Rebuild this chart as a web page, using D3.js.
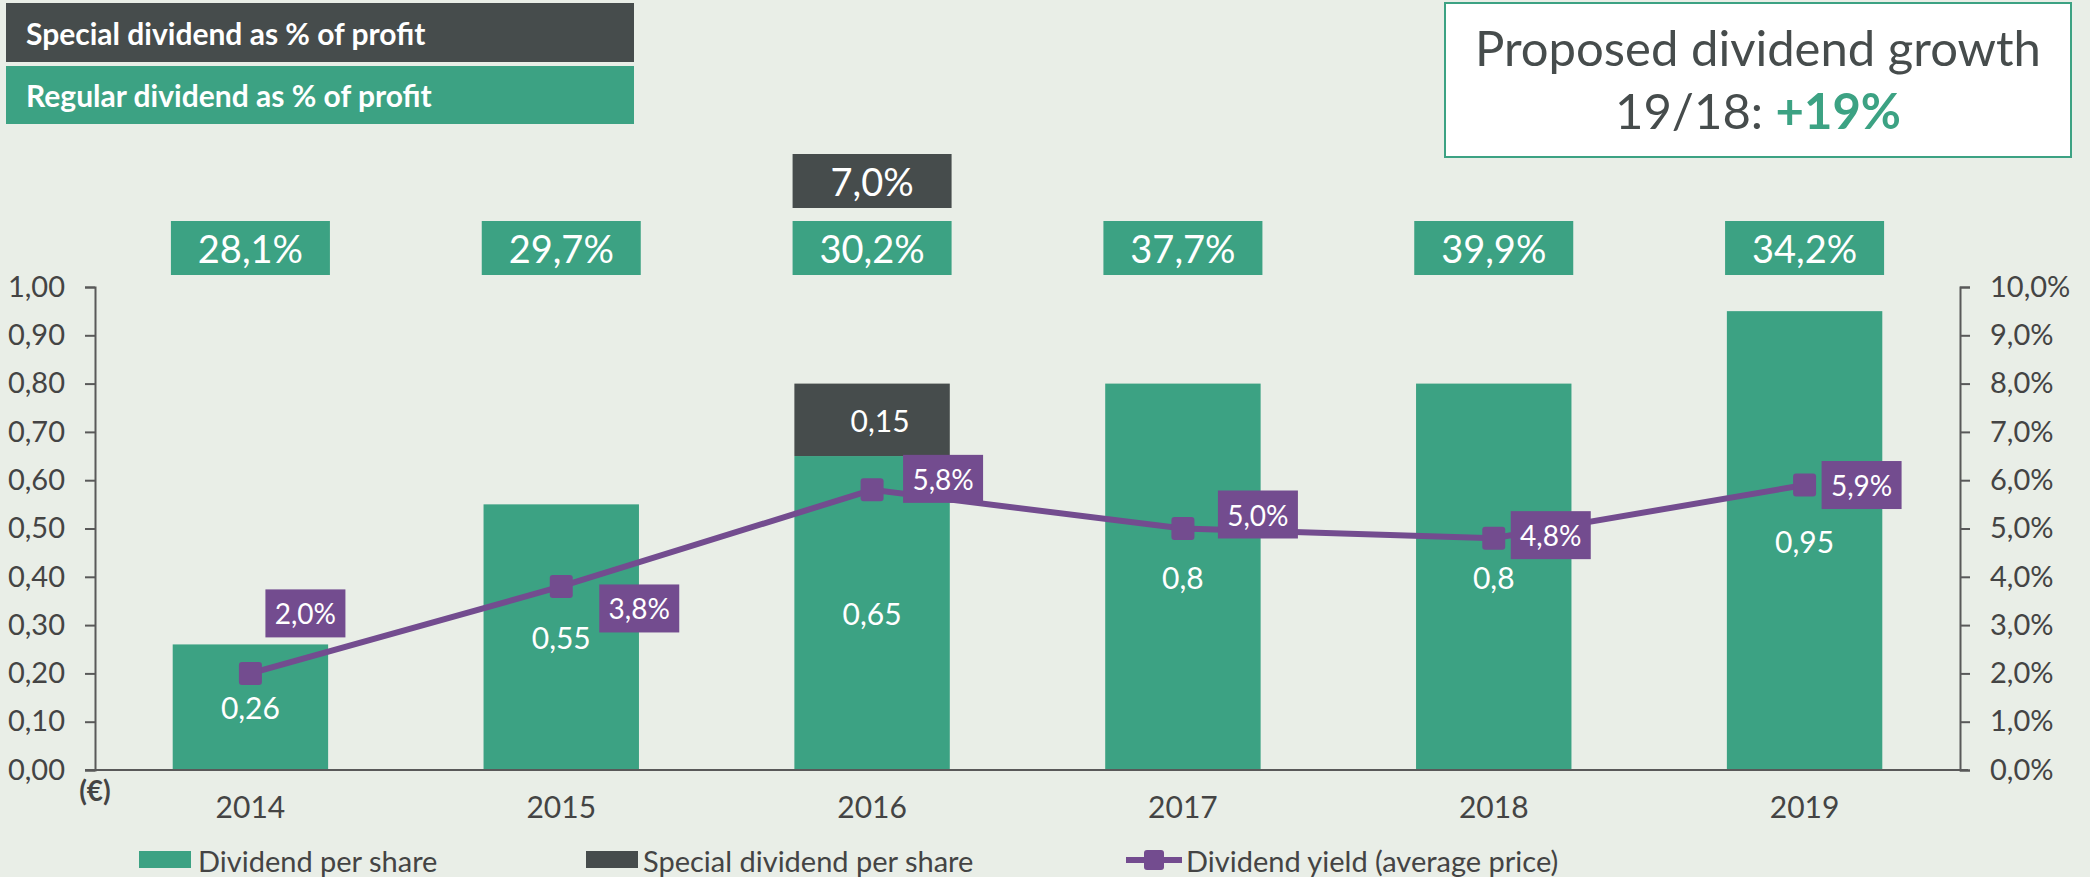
<!DOCTYPE html>
<html>
<head>
<meta charset="utf-8">
<script src="https://cdn.jsdelivr.net/npm/d3@7/dist/d3.min.js"></script>
<style>
  html, body { margin: 0; padding: 0; background: #E9EEE7; }
  svg { display: block; font-family: Lato, "Open Sans", sans-serif; }
</style>
</head>
<body>
<svg id="chart" width="2090" height="877"></svg>
<script>
const years = ['2014', '2015', '2016', '2017', '2018', '2019'];
const dividendPerShare = [0.26, 0.55, 0.65, 0.8, 0.8, 0.95];
const specialDividend = [0, 0, 0.15, 0, 0, 0];
const dividendYield = [2.0, 3.8, 5.8, 5.0, 4.8, 5.9];
const regularPayout = [28.1, 29.7, 30.2, 37.7, 39.9, 34.2];
const specialPayout = [null, null, 7.0, null, null, null];
const leftTicks = [0, 0.1, 0.2, 0.3, 0.4, 0.5, 0.6, 0.7, 0.8, 0.9, 1.0];
const rightTicks = [0, 1, 2, 3, 4, 5, 6, 7, 8, 9, 10];

const GREEN = '#3CA283';
const DARK = '#464C4C';
const PURPLE = '#734C8F';
const AXIS = '#595959';
const TEXT = '#444';

// label offsets for the yield boxes, relative to the marker (layout only)
const yieldLabelNudge = [[55, -60], [78, 22], [71, -11], [75, -14], [57, -3], [57, 0]];

const comma = s => s.replace('.', ',');

const svg = d3.select('#chart');
const plotLeft = 95, plotRight = 1960, plotBottom = 770, plotTop = 287;

const x = d3.scaleBand()
  .domain(years)
  .range([plotLeft, plotRight])
  .paddingInner(0.5)
  .paddingOuter(0.25);

const y = d3.scaleLinear().domain([0, 1]).range([plotBottom, plotTop]);
const y2 = d3.scaleLinear().domain([0, 10]).range([plotBottom, plotTop]);

// left axis
const leftAxis = svg.append('g')
  .attr('transform', `translate(${plotLeft},0)`)
  .call(d3.axisLeft(y)
    .tickValues(leftTicks)
    .tickSize(10)
    .tickPadding(20)
    .tickFormat(d => comma(d3.format('.2f')(d))));

// right axis
const rightAxis = svg.append('g')
  .attr('transform', `translate(${plotRight},0)`)
  .call(d3.axisRight(y2)
    .tickValues(rightTicks)
    .tickSize(10)
    .tickPadding(20)
    .tickFormat(d => comma(d3.format('.1f')(d)) + '%'));

[leftAxis, rightAxis].forEach(g => {
  g.select('.domain').attr('stroke', AXIS).attr('stroke-width', 2);
  g.selectAll('.tick line').attr('stroke', AXIS).attr('stroke-width', 2);
  g.selectAll('.tick text')
    .attr('fill', TEXT)
    .style('font-size', '29px')
    .style('font-family', 'Lato, sans-serif');
});

// bars: regular then special stacked on top
const barGroups = svg.append('g');
barGroups.selectAll('.bar-regular')
  .data(years)
  .enter().append('rect')
  .attr('class', 'bar-regular')
  .attr('x', d => x(d))
  .attr('width', x.bandwidth())
  .attr('y', (d, i) => y(dividendPerShare[i]))
  .attr('height', (d, i) => plotBottom - y(dividendPerShare[i]))
  .attr('fill', GREEN);

barGroups.selectAll('.bar-special')
  .data(years.filter((d, i) => specialDividend[i] > 0))
  .enter().append('rect')
  .attr('class', 'bar-special')
  .attr('x', d => x(d))
  .attr('width', x.bandwidth())
  .attr('y', d => {
    const i = years.indexOf(d);
    return y(dividendPerShare[i] + specialDividend[i]);
  })
  .attr('height', d => {
    const i = years.indexOf(d);
    return y(dividendPerShare[i]) - y(dividendPerShare[i] + specialDividend[i]);
  })
  .attr('fill', DARK);

// baseline
svg.append('line')
  .attr('x1', plotLeft - 10).attr('x2', plotRight + 8)
  .attr('y1', plotBottom).attr('y2', plotBottom)
  .attr('stroke', AXIS).attr('stroke-width', 2);

// year labels
const xAxis = svg.append('g')
  .attr('transform', `translate(0,${plotBottom})`)
  .call(d3.axisBottom(x).tickSize(0).tickPadding(27));
xAxis.select('.domain').remove();
xAxis.selectAll('.tick text')
  .attr('fill', TEXT)
  .style('font-size', '30px')
  .style('font-family', 'Lato, sans-serif');

svg.append('text')
  .attr('x', 95).attr('y', 790)
  .attr('text-anchor', 'middle')
  .attr('dominant-baseline', 'central')
  .attr('fill', TEXT)
  .style('font-size', '28px')
  .style('font-weight', 'bold')
  .text('(€)');

// value labels inside bars
svg.selectAll('.bar-label')
  .data(years)
  .enter().append('text')
  .attr('class', 'bar-label')
  .attr('x', d => x(d) + x.bandwidth() / 2)
  .attr('y', (d, i) => y(dividendPerShare[i] / 2))
  .attr('text-anchor', 'middle')
  .attr('dominant-baseline', 'central')
  .attr('fill', '#fff')
  .style('font-size', '30px')
  .text((d, i) => comma(String(dividendPerShare[i])));

svg.selectAll('.special-label')
  .data(years.filter((d, i) => specialDividend[i] > 0))
  .enter().append('text')
  .attr('class', 'special-label')
  .attr('x', d => x(d) + x.bandwidth() / 2 + 8)
  .attr('y', d => {
    const i = years.indexOf(d);
    return y(dividendPerShare[i] + specialDividend[i] / 2);
  })
  .attr('text-anchor', 'middle')
  .attr('dominant-baseline', 'central')
  .attr('fill', '#fff')
  .style('font-size', '30px')
  .text(d => comma(String(specialDividend[years.indexOf(d)])));

// dividend yield line
const line = d3.line()
  .x((d, i) => x(years[i]) + x.bandwidth() / 2)
  .y(d => y2(d));

svg.append('path')
  .datum(dividendYield)
  .attr('fill', 'none')
  .attr('stroke', PURPLE)
  .attr('stroke-width', 6)
  .attr('d', line);

svg.selectAll('.marker')
  .data(dividendYield)
  .enter().append('rect')
  .attr('class', 'marker')
  .attr('x', (d, i) => x(years[i]) + x.bandwidth() / 2 - 11.5)
  .attr('y', d => y2(d) - 11.5)
  .attr('width', 23).attr('height', 23)
  .attr('rx', 3)
  .attr('fill', PURPLE);

const yieldLabels = svg.selectAll('.yield-label')
  .data(dividendYield)
  .enter().append('g')
  .attr('class', 'yield-label')
  .attr('transform', (d, i) => {
    const cx = x(years[i]) + x.bandwidth() / 2 + yieldLabelNudge[i][0];
    const cy = y2(d) + yieldLabelNudge[i][1];
    return `translate(${cx},${cy})`;
  });

yieldLabels.append('rect')
  .attr('x', -40).attr('y', -24)
  .attr('width', 80).attr('height', 48)
  .attr('fill', PURPLE);

yieldLabels.append('text')
  .attr('text-anchor', 'middle')
  .attr('dominant-baseline', 'central')
  .attr('fill', '#fff')
  .style('font-size', '28px')
  .text(d => comma(d3.format('.1f')(d)) + '%');

// payout boxes above the bars
const payoutBoxW = 159;
const regularBoxes = svg.selectAll('.payout-regular')
  .data(years)
  .enter().append('g')
  .attr('class', 'payout-regular')
  .attr('transform', d => `translate(${x(d) + x.bandwidth() / 2},248)`);

regularBoxes.append('rect')
  .attr('x', -payoutBoxW / 2).attr('y', -27)
  .attr('width', payoutBoxW).attr('height', 54)
  .attr('fill', GREEN);

regularBoxes.append('text')
  .attr('text-anchor', 'middle')
  .attr('dominant-baseline', 'central')
  .attr('fill', '#fff')
  .style('font-size', '38px')
  .text((d, i) => comma(d3.format('.1f')(regularPayout[i])) + '%');

const specialBoxes = svg.selectAll('.payout-special')
  .data(years.filter((d, i) => specialPayout[i] != null))
  .enter().append('g')
  .attr('class', 'payout-special')
  .attr('transform', d => `translate(${x(d) + x.bandwidth() / 2},181)`);

specialBoxes.append('rect')
  .attr('x', -payoutBoxW / 2).attr('y', -27)
  .attr('width', payoutBoxW).attr('height', 54)
  .attr('fill', DARK);

specialBoxes.append('text')
  .attr('text-anchor', 'middle')
  .attr('dominant-baseline', 'central')
  .attr('fill', '#fff')
  .style('font-size', '38px')
  .text(d => comma(d3.format('.1f')(specialPayout[years.indexOf(d)])) + '%');

// top-left key boxes
const keys = [
  { label: 'Special dividend as % of profit', color: DARK, y: 3, h: 59 },
  { label: 'Regular dividend as % of profit', color: GREEN, y: 66, h: 58 }
];
const keyG = svg.selectAll('.key')
  .data(keys)
  .enter().append('g')
  .attr('class', 'key');
keyG.append('rect')
  .attr('x', 6).attr('y', d => d.y)
  .attr('width', 628).attr('height', d => d.h)
  .attr('fill', d => d.color);
keyG.append('text')
  .attr('x', 26).attr('y', d => d.y + d.h / 2)
  .attr('dominant-baseline', 'central')
  .attr('fill', '#fff')
  .style('font-size', '30px')
  .style('font-weight', 'bold')
  .text(d => d.label);

// growth callout
svg.append('rect')
  .attr('x', 1445).attr('y', 3)
  .attr('width', 626).attr('height', 154)
  .attr('fill', '#fff')
  .attr('stroke', GREEN)
  .attr('stroke-width', 2);

svg.append('text')
  .attr('x', 1758).attr('y', 66)
  .attr('text-anchor', 'middle')
  .attr('fill', DARK)
  .style('font-size', '49px')
  .text('Proposed dividend growth');

const line2 = svg.append('text')
  .attr('x', 1758).attr('y', 129)
  .attr('text-anchor', 'middle')
  .attr('fill', DARK)
  .style('font-size', '49px');
line2.append('tspan').text('19/18: ');
line2.append('tspan')
  .attr('fill', GREEN)
  .style('font-weight', 'bold')
  .text('+19%');

// bottom legend
const legendY = 860;
svg.append('rect')
  .attr('x', 139).attr('y', legendY - 9)
  .attr('width', 52).attr('height', 17)
  .attr('fill', GREEN);
svg.append('rect')
  .attr('x', 586).attr('y', legendY - 9)
  .attr('width', 52).attr('height', 17)
  .attr('fill', DARK);
svg.append('line')
  .attr('x1', 1126).attr('x2', 1182)
  .attr('y1', legendY).attr('y2', legendY)
  .attr('stroke', PURPLE).attr('stroke-width', 6);
svg.append('rect')
  .attr('x', 1144).attr('y', legendY - 10)
  .attr('width', 20).attr('height', 20)
  .attr('rx', 3)
  .attr('fill', PURPLE);

[
  { x: 198, label: 'Dividend per share' },
  { x: 643, label: 'Special dividend per share' },
  { x: 1186, label: 'Dividend yield (average price)' }
].forEach(d => {
  svg.append('text')
    .attr('x', d.x).attr('y', legendY)
    .attr('dominant-baseline', 'central')
    .attr('fill', TEXT)
    .style('font-size', '29px')
    .text(d.label);
});
</script>
</body>
</html>
